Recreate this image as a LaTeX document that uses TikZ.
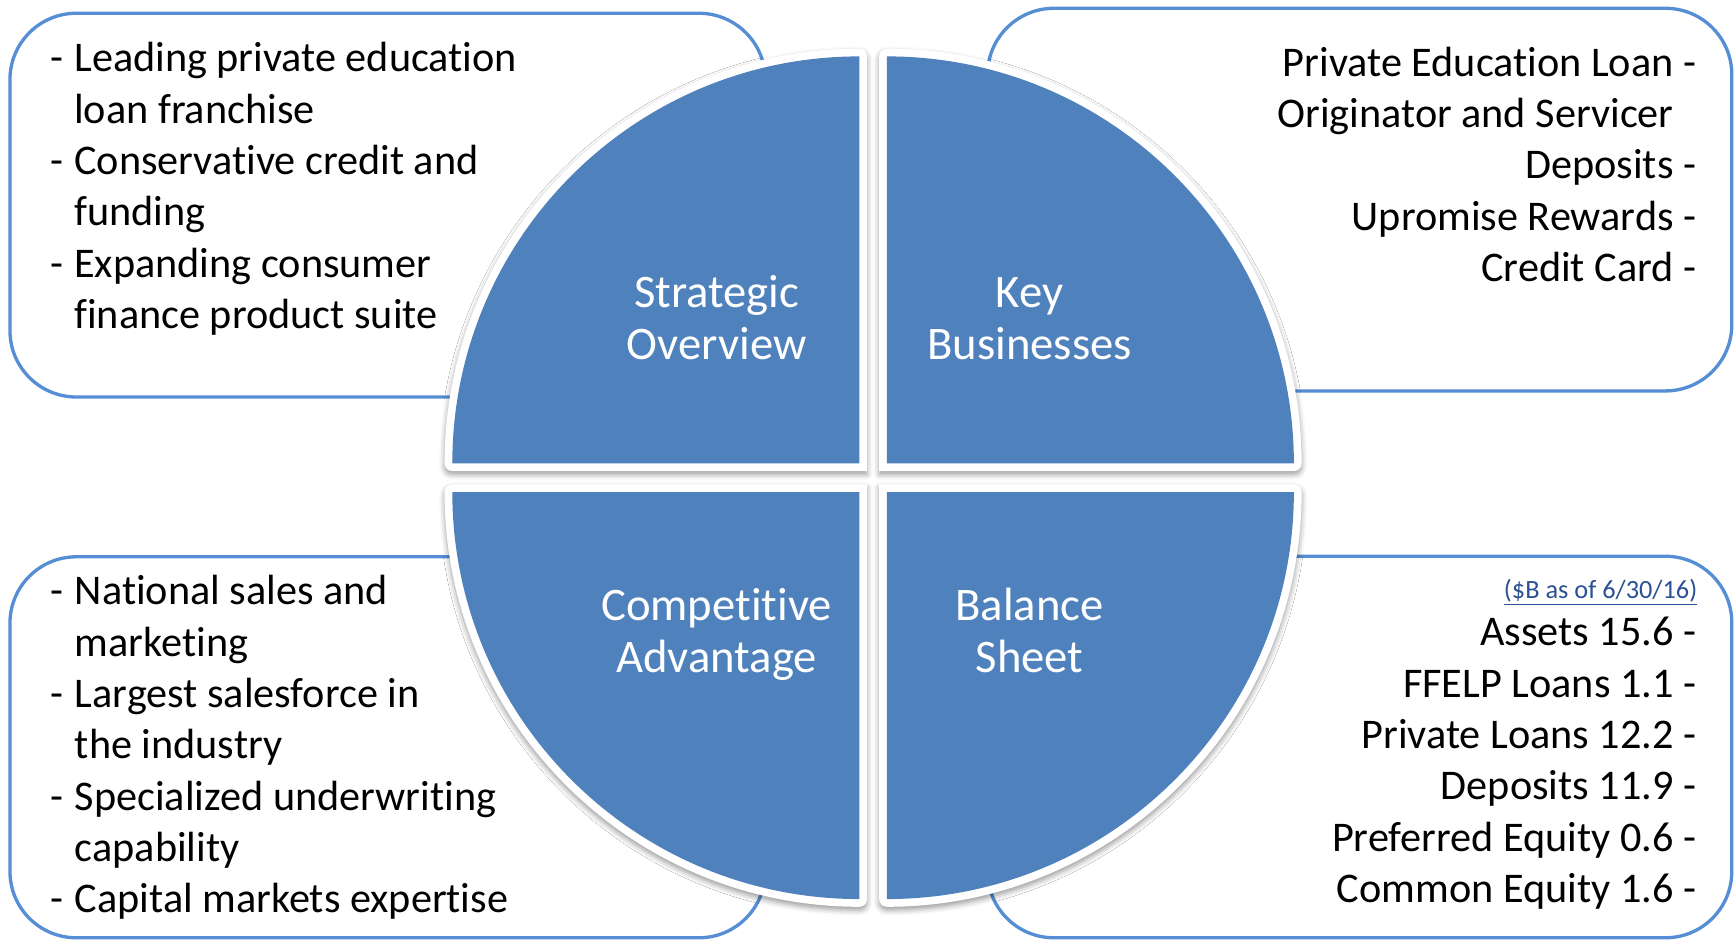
\documentclass[tikz,border=0pt]{standalone}
\usepackage{fontspec}
\setmainfont{Carlito}[RawFeature={-liga;-clig;-calt;-dlig;-rlig}]
\usetikzlibrary{shadows.blur}
\definecolor{qblue}{HTML}{4F81BD}
\definecolor{boxblue}{HTML}{558ED5}
\definecolor{noteblue}{HTML}{2A5193}
\tikzset{
  infobox/.style={draw=boxblue, line width=3pt, fill=white, rounded corners=60pt},
  quadshell/.style={fill=white, blur shadow={shadow xshift=0pt, shadow yshift=-3pt, shadow blur radius=5pt, shadow opacity=40}},
  quadfill/.style={fill=qblue},
  boxtext/.style={inner sep=0pt, font=\fontsize{38.2}{46.4}\selectfont},
  notetext/.style={inner sep=0pt, font=\fontsize{23.8}{28}\selectfont, text=noteblue},
  quadlabel/.style={inner sep=0pt, text=white, font=\fontsize{42.2}{47.4}\selectfont}
}
\begin{document}
\begin{tikzpicture}[x=1pt,y=1pt]
\useasboundingbox (0,0) rectangle (1568,851);
% info boxes
\path[infobox] (9,492) rectangle (692,839);
\path[infobox] (893,497.5) rectangle (1566,843.5);
\path[infobox] (9,3) rectangle (692,347.5);
\path[infobox] (893,3) rectangle (1566,348);
% quadrant shells (white border + shadow)
\path[quadshell] (784,432) -- (784,425) -- (409,425) arc[start angle=270,end angle=180,radius=7] arc[start angle=180,end angle=90,radius=375] arc[start angle=90,end angle=0,radius=7] -- cycle;
\path[quadshell] (795,432) -- (795,800) arc[start angle=180,end angle=90,radius=7] arc[start angle=90,end angle=0,radius=375] arc[start angle=0,end angle=-90,radius=7] -- (795,425) -- cycle;
\path[quadshell] (784,406) -- (784,413) -- (409,413) arc[start angle=90,end angle=180,radius=7] arc[start angle=180,end angle=270,radius=375] arc[start angle=270,end angle=360,radius=7] -- cycle;
\path[quadshell] (795,406) -- (795,413) -- (1170,413) arc[start angle=90,end angle=0,radius=7] arc[start angle=0,end angle=-90,radius=375] arc[start angle=270,end angle=180,radius=7] -- cycle;
% quadrants
\path[quadfill] (777,432) -- (409,432) arc[start angle=180,end angle=90,radius=368] -- cycle;
\path[quadfill] (802,432) -- (802,800) arc[start angle=90,end angle=0,radius=368] -- cycle;
\path[quadfill] (777,406) -- (409,406) arc[start angle=180,end angle=270,radius=368] -- cycle;
\path[quadfill] (802,406) -- (1170,406) arc[start angle=0,end angle=-90,radius=368] -- cycle;
% quadrant labels
\node[quadlabel, anchor=base] (strat) at (648,573) {\begin{tabular}[t]{@{}c@{}}Strategic\\Overview\end{tabular}};
\node[quadlabel, anchor=base] (keyb) at (931,573) {\begin{tabular}[t]{@{}c@{}}Key\\Businesses\end{tabular}};
\node[quadlabel, anchor=base] (comp) at (648,290) {\begin{tabular}[t]{@{}c@{}}Competitive\\Advantage\end{tabular}};
\node[quadlabel, anchor=base] (bal) at (931,290) {\begin{tabular}[t]{@{}c@{}}Balance\\Sheet\end{tabular}};
% box texts
\node[boxtext, anchor=base west] (tltext) at (45.2,786) {\begin{tabular}[t]{@{}l@{\hspace{10.1pt}}l@{}}
-&Leading private education\\
 &loan franchise\\
-&Conservative credit and\\
 &funding\\
-&Expanding consumer\\
 &finance product suite\end{tabular}};
\node[boxtext, anchor=base west] (bltext) at (45.7,304) {\begin{tabular}[t]{@{}l@{\hspace{10.1pt}}l@{}}
-&National sales and\\
 &marketing\\
-&Largest salesforce in\\
 &the industry\\
-&Specialized underwriting\\
 &capability\\
-&Capital markets expertise\end{tabular}};
\node[boxtext, anchor=base east] (trtext) at (1534,782) {\begin{tabular}[t]{@{}r@{}}
Private Education Loan -\\
Originator and Servicer\hphantom{\ -}\\
Deposits -\\
Upromise Rewards -\\
Credit Card -\end{tabular}};
\node[notetext, anchor=base east] (note) at (1535,309.5) {\underline{(\$B as of 6/30/16)}};
\node[boxtext, anchor=base east] (brtext) at (1534,267) {\begin{tabular}[t]{@{}r@{}}
Assets 15.6 -\\
FFELP Loans 1.1 -\\
Private Loans 12.2 -\\
Deposits 11.9 -\\
Preferred Equity 0.6 -\\
Common Equity 1.6 -\end{tabular}};
\end{tikzpicture}
\end{document}
